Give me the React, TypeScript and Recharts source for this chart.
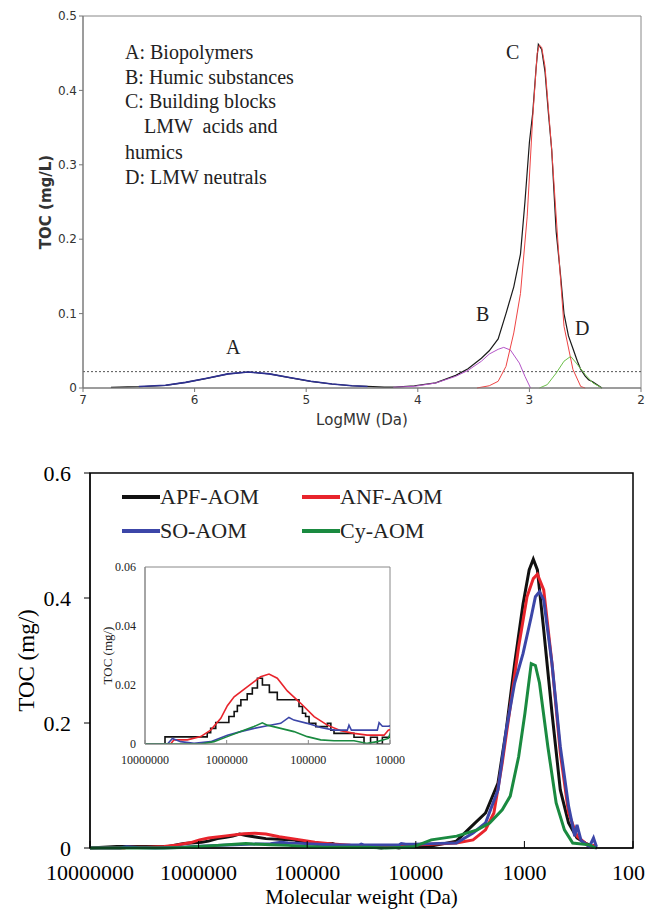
import React from 'react';
import { LineChart, Line, XAxis, YAxis, ReferenceLine, ReferenceArea, Label } from 'recharts';

// ---- top panel: LC-OCD fractions (x = log MW) ----
const totalLog = [6.75, 6.6, 6.45, 6.26, 6.08, 5.89, 5.7, 5.52, 5.33, 5.15, 4.96, 4.77, 4.59, 4.4, 4.3, 4.2, 4.03, 3.84, 3.66, 3.55, 3.43, 3.36, 3.28, 3.21, 3.14, 3.08, 3.04, 3.0, 2.97, 2.94, 2.92, 2.89, 2.86, 2.83, 2.8, 2.76, 2.72, 2.69, 2.65, 2.61, 2.57, 2.54, 2.5, 2.47, 2.43, 2.38, 2.35];
const totalToc = [0.001, 0.0015, 0.002, 0.0036, 0.0076, 0.013, 0.019, 0.0215, 0.019, 0.014, 0.009, 0.0054, 0.003, 0.0018, 0.0012, 0.0012, 0.003, 0.007, 0.017, 0.026, 0.04, 0.05, 0.066, 0.1, 0.136, 0.18, 0.25, 0.33, 0.37, 0.43, 0.462, 0.455, 0.425, 0.37, 0.32, 0.21, 0.15, 0.1, 0.07, 0.053, 0.036, 0.025, 0.016, 0.011, 0.008, 0.003, 0];

const aLog = [6.5, 6.26, 6.08, 5.89, 5.7, 5.52, 5.33, 5.15, 4.96, 4.77, 4.59, 4.45];
const aToc = [0.002, 0.0036, 0.0076, 0.013, 0.019, 0.0215, 0.019, 0.014, 0.009, 0.0054, 0.003, 0.002];

const bLog = [4.22, 4.03, 3.84, 3.66, 3.55, 3.43, 3.36, 3.28, 3.23, 3.17, 3.09, 3.04, 2.99];
const bToc = [0.001, 0.0022, 0.0067, 0.0157, 0.0237, 0.036, 0.0456, 0.052, 0.0546, 0.051, 0.0335, 0.0157, 0];

const cLog = [3.47, 3.36, 3.28, 3.21, 3.14, 3.08, 3.02, 2.97, 2.93, 2.91, 2.89, 2.86, 2.8, 2.74, 2.69, 2.61, 2.54, 2.5];
const cToc = [0, 0.003, 0.009, 0.029, 0.074, 0.127, 0.23, 0.364, 0.45, 0.461, 0.458, 0.432, 0.32, 0.186, 0.083, 0.025, 0.002, 0];

const dLog = [2.91, 2.84, 2.76, 2.69, 2.63, 2.58, 2.5, 2.43, 2.35];
const dToc = [0, 0.0045, 0.02, 0.036, 0.0425, 0.0335, 0.018, 0.0067, 0];

const topTicksX = [7, 6, 5, 4, 3, 2];
const topTicksY = [0, 0.1, 0.2, 0.3, 0.4, 0.5];
const baseline = 0.022;

// ---- bottom panel: AOM samples (x = molecular weight, Da) ----
const apfMw = [10000000, 5690000, 1900000, 1730000, 1570000, 1360000, 940000, 810000, 740000, 670000, 560000, 485000, 420000, 365000, 300000, 240000, 130000, 118000, 108000, 98000, 81000, 58500, 53000, 48500, 27600, 20800, 17300, 14300, 12400, 10500, 7200, 4230, 2970, 2280, 1750, 1470, 1230, 1030, 904, 828, 759, 664, 557, 467, 392, 328, 275, 231, 215];
const apfToc = [0, 0.0024, 0.0024, 0.0038, 0.0053, 0.0073, 0.0093, 0.011, 0.013, 0.015, 0.017, 0.019, 0.0223, 0.02, 0.0175, 0.015, 0.0127, 0.0104, 0.0093, 0.007, 0.0059, 0.007, 0.0047, 0.0036, 0.0023, 0, 0.0023, 0, 0.0023, 0.0023, 0.003, 0.011, 0.037, 0.056, 0.104, 0.189, 0.295, 0.39, 0.445, 0.462, 0.445, 0.349, 0.216, 0.093, 0.04, 0.016, 0.008, 0.002, 0];

const anfMw = [10000000, 4850000, 4420000, 3030000, 2080000, 1570000, 1180000, 980000, 810000, 560000, 384000, 303000, 240000, 181000, 124000, 85000, 58500, 40000, 27600, 19000, 11800, 10500, 7200, 4230, 2970, 2280, 1910, 1600, 1350, 1130, 946, 828, 759, 664, 557, 467, 392, 328, 252, 221];
const anfToc = [0, 0, 0.0014, 0.0014, 0.0025, 0.0047, 0.0087, 0.013, 0.016, 0.0194, 0.0228, 0.0237, 0.0223, 0.018, 0.0138, 0.0093, 0.0064, 0.0045, 0.0036, 0.003, 0.003, 0.0047, 0.006, 0.008, 0.013, 0.029, 0.056, 0.136, 0.226, 0.322, 0.402, 0.431, 0.438, 0.413, 0.295, 0.152, 0.056, 0.019, 0.002, 0.005];

const soMw = [10000000, 5300000, 4620000, 3660000, 2510000, 1570000, 980000, 675000, 463000, 318000, 218000, 173000, 150000, 103000, 70600, 48500, 33300, 31800, 29700, 14300, 13600, 12400, 10500, 7200, 4230, 2970, 2280, 1750, 1470, 1230, 1030, 865, 792, 726, 664, 557, 467, 392, 344, 328, 301, 252, 231, 217];
const soToc = [0, 0, 0.0019, 0.0008, 0.0002, 0.0008, 0.003, 0.0042, 0.0053, 0.0062, 0.007, 0.009, 0.0081, 0.007, 0.0056, 0.0047, 0.0047, 0.0064, 0.0047, 0.0047, 0.0072, 0.006, 0.006, 0.007, 0.008, 0.024, 0.04, 0.093, 0.189, 0.264, 0.311, 0.37, 0.402, 0.41, 0.397, 0.295, 0.162, 0.067, 0.019, 0.037, 0.012, 0.002, 0.016, 0.002];

const cyMw = [10000000, 2080000, 1430000, 980000, 675000, 463000, 366000, 318000, 218000, 150000, 103000, 70600, 48500, 27600, 19000, 14300, 10500, 7200, 4200, 2720, 2090, 1600, 1350, 1130, 988, 865, 792, 726, 608, 510, 428, 359, 252, 221];
const cyToc = [0, 0, 0.0008, 0.0025, 0.0042, 0.0059, 0.0072, 0.0064, 0.0053, 0.0042, 0.0025, 0.0014, 0.0011, 0.0011, 0.0002, 0.0008, 0.0019, 0.013, 0.019, 0.029, 0.04, 0.061, 0.083, 0.146, 0.216, 0.295, 0.292, 0.264, 0.162, 0.072, 0.029, 0.008, 0.005, 0];

const mwTicks = [10000000, 1000000, 100000, 10000, 1000, 100];
const insetTicks = [10000000, 1000000, 100000, 10000];

const zip = (xs: number[], ys: number[]) => xs.map((x, i) => ({ x, y: ys[i] }));

const serif = "'Liberation Serif', 'Times New Roman', serif";
const sans = "'DejaVu Sans', Verdana, sans-serif";

const series = [
  { name: 'APF-AOM', color: '#111111', data: zip(apfMw, apfToc), step: true },
  { name: 'ANF-AOM', color: '#e8242c', data: zip(anfMw, anfToc), step: false },
  { name: 'SO-AOM', color: '#3c46a8', data: zip(soMw, soToc), step: false },
  { name: 'Cy-AOM', color: '#1a8a40', data: zip(cyMw, cyToc), step: false },
];

const topNotes = [
  { text: 'A: Biopolymers', x: 125, y: 52 },
  { text: 'B: Humic substances', x: 125, y: 77 },
  { text: 'C: Building blocks', x: 125, y: 101 },
  { text: 'LMW  acids and', x: 144, y: 126 },
  { text: 'humics', x: 125, y: 152 },
  { text: 'D: LMW neutrals', x: 125, y: 177 },
  { text: 'A', x: 226, y: 347 },
  { text: 'B', x: 476, y: 314 },
  { text: 'C', x: 506, y: 52 },
  { text: 'D', x: 575, y: 328 },
];

// keeps the "100" label inside the page like the original
const MwTick = (p: any) => {
  const label = String(p.payload.value);
  const x = Math.min(p.x, 645 - label.length * 5.5);
  return (
    <text x={x} y={p.y} dy="0.71em" textAnchor="middle" fill="#000" fontSize={22} fontFamily={serif}>
      {label}
    </text>
  );
};

const TopPanel = () => (
  <div style={{ position: 'absolute', left: 0, top: 0 }}>
    <LineChart width={647} height={428} margin={{ top: 16, right: 6, bottom: 0, left: 0 }}>
      <XAxis type="number" dataKey="x" domain={[2, 7]} reversed ticks={topTicksX} interval={0}
        height={40} tickSize={4} tickMargin={3} stroke="#777"
        tick={{ fill: '#333', fontSize: 12, fontFamily: sans }}>
        <Label value="LogMW (Da)" position="insideBottom" offset={3} style={{ fill: '#333', fontSize: 15, fontFamily: sans }} />
      </XAxis>
      <YAxis type="number" domain={[0, 0.5]} ticks={topTicksY} interval={0} width={83}
        tickSize={4} tickMargin={2} stroke="#777"
        tick={{ fill: '#333', fontSize: 12, fontFamily: sans }}>
        <Label value="TOC (mg/L)" angle={-90} position="insideLeft" offset={46}
          style={{ textAnchor: 'middle', fill: '#333', fontSize: 15, fontWeight: 'bold', fontFamily: sans }} />
      </YAxis>
      <ReferenceArea x1={2} x2={7} y1={0} y2={0.5} fill="none" stroke="#888" />
      <ReferenceLine y={baseline} stroke="#555" strokeDasharray="2 2" />
      <Line data={zip(totalLog, totalToc)} dataKey="y" stroke="#1a1a1a" strokeWidth={1.2} dot={false} isAnimationActive={false} />
      <Line data={zip(aLog, aToc)} dataKey="y" stroke="#2e3192" strokeWidth={1.6} dot={false} isAnimationActive={false} />
      <Line data={zip(bLog, bToc)} dataKey="y" stroke="#b455c8" strokeWidth={1} dot={false} isAnimationActive={false} />
      <Line data={zip(cLog, cToc)} dataKey="y" stroke="#ee4444" strokeWidth={1} dot={false} isAnimationActive={false} />
      <Line data={zip(dLog, dToc)} dataKey="y" stroke="#6cc04a" strokeWidth={1} dot={false} isAnimationActive={false} />
    </LineChart>
    {topNotes.map((n) => (
      <div key={n.text} style={{ position: 'absolute', left: n.x, top: n.y - 12, fontFamily: serif, fontSize: 20, lineHeight: '24px', whiteSpace: 'pre', color: '#222' }}>
        {n.text}
      </div>
    ))}
  </div>
);

const BottomPanel = () => (
  <div style={{ position: 'absolute', left: 0, top: 430 }}>
    <LineChart width={647} height={479} margin={{ top: 43, right: 14, bottom: 0, left: 0 }}>
      <XAxis type="number" dataKey="x" scale="log" domain={[100, 10000000]} reversed ticks={mwTicks} interval={0}
        height={61} tickSize={-7} tickMargin={23} stroke="#000" tick={MwTick}>
        <Label value="Molecular weight (Da)" position="insideBottom" offset={5} style={{ fill: '#000', fontSize: 21, fontFamily: serif }} />
      </XAxis>
      <YAxis type="number" domain={[0, 0.6]} ticks={[0, 0.2, 0.4, 0.6]} interval={0} width={90}
        tickSize={6} tickMargin={13} stroke="#000"
        tick={{ fill: '#000', fontSize: 22, fontFamily: serif }}>
        <Label value="TOC (mg/)" angle={-90} position="insideLeft" offset={26}
          style={{ textAnchor: 'middle', fill: '#000', fontSize: 23, fontFamily: serif }} />
      </YAxis>
      <ReferenceArea x1={100} x2={10000000} y1={0} y2={0.6} fill="none" stroke="#000" strokeWidth={1.5} />
      {series.map((s) => (
        <Line key={s.name} data={s.data} dataKey="y" name={s.name} stroke={s.color} strokeWidth={3} dot={false} isAnimationActive={false} />
      ))}
    </LineChart>
    {series.map((s, i) => (
      <div key={s.name} style={{ position: 'absolute', left: i % 2 === 0 ? 122 : 302, top: (i < 2 ? 67 : 101) - 14, display: 'flex', alignItems: 'center', height: 28 }}>
        <div style={{ width: 38, height: 4, background: s.color }} />
        <span style={{ fontFamily: serif, fontSize: 22, color: '#222' }}>{s.name}</span>
      </div>
    ))}
  </div>
);

const Inset = () => (
  <div style={{ position: 'absolute', left: 95, top: 550 }}>
    <LineChart width={310} height={230} margin={{ top: 17, right: 15, bottom: 0, left: 0 }}>
      <ReferenceArea x1={10000} x2={10000000} y1={0} y2={0.06} fill="#fff" fillOpacity={1} stroke="#888" />
      <XAxis type="number" dataKey="x" scale="log" domain={[10000, 10000000]} reversed allowDataOverflow ticks={insetTicks} interval={0}
        height={36} tickSize={-4} tickMargin={15} stroke="#888" tickFormatter={(v: number) => String(v)}
        tick={{ fill: '#222', fontSize: 12, fontFamily: serif }} />
      <YAxis type="number" domain={[0, 0.06]} allowDataOverflow ticks={[0, 0.02, 0.04, 0.06]} interval={0} width={50}
        tickSize={0} tickMargin={9} stroke="#888"
        tick={{ fill: '#222', fontSize: 12, fontFamily: serif }}>
        <Label value="TOC (mg/)" angle={-90} position="insideLeft" offset={12}
          style={{ textAnchor: 'middle', fill: '#222', fontSize: 13, fontFamily: serif }} />
      </YAxis>
      {series.map((s) => (
        <Line key={s.name} data={s.data} dataKey="y" type={s.step ? 'stepAfter' : 'linear'} stroke={s.color} strokeWidth={1.6} dot={false} isAnimationActive={false} />
      ))}
    </LineChart>
  </div>
);

export default function App() {
  return (
    <div style={{ position: 'absolute', left: 0, top: 0, width: 647, height: 909, background: '#fff', overflow: 'hidden' }}>
      <TopPanel />
      <BottomPanel />
      <Inset />
    </div>
  );
}
